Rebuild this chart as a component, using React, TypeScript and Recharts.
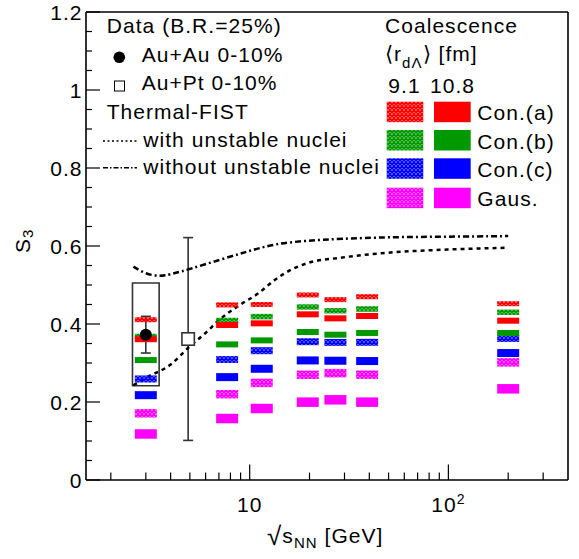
import React from 'react';
import {
  ComposedChart,
  XAxis,
  YAxis,
  Scatter,
  Line,
  ErrorBar,
  ReferenceArea,
  ReferenceLine,
} from 'recharts';

// ---------- data ----------
const energies = [3, 7.7, 11.5, 19.6, 27, 39, 200];

// Coalescence, <r_dL> = 9.1 fm (hatched)
const conA91 = [0.411, 0.449, 0.45, 0.4745, 0.4625, 0.47, 0.452];
const conB91 = [0.368, 0.409, 0.419, 0.4437, 0.434, 0.4385, 0.43];
const conC91 = [0.259, 0.309, 0.3315, 0.3546, 0.3528, 0.353, 0.363];
const gaus91 = [0.171, 0.22, 0.249, 0.2698, 0.274, 0.27, 0.3015];

// Coalescence, <r_dL> = 10.8 fm (solid)
const conA108 = [0.361, 0.3974, 0.4017, 0.4248, 0.4145, 0.4205, 0.4085];
const conB108 = [0.3075, 0.3477, 0.358, 0.3795, 0.3726, 0.377, 0.377];
const conC108 = [0.2175, 0.2638, 0.2852, 0.3066, 0.3058, 0.305, 0.3255];
const gaus108 = [0.118, 0.1576, 0.1833, 0.1996, 0.2056, 0.1996, 0.2338];

// Data
const auauEnergy = [3];
const auauS3 = [0.3726];
const auauStat = [0.047];
const auauSysLow = [0.2415];
const auauSysHigh = [0.505];

const auptEnergy = [4.9];
const auptS3 = [0.3615];
const auptStat = [0.26];

// Thermal-FIST
const withUnstableX = [2.6, 3, 4, 5, 6, 7, 9, 11, 13.3, 16, 19.5, 28.7, 49, 100, 200];
const withUnstableY = [0.243, 0.262, 0.296, 0.343, 0.377, 0.41, 0.45, 0.478, 0.512, 0.538, 0.556, 0.57, 0.5825, 0.591, 0.5955];
const withoutUnstableX = [2.6, 3, 3.5, 4, 5, 7.1, 9.9, 13.3, 19.5, 28.7, 49, 100, 200];
const withoutUnstableY = [0.547, 0.528, 0.522, 0.527, 0.541, 0.565, 0.587, 0.6055, 0.614, 0.6185, 0.6227, 0.624, 0.6254];

// ticks
const xMajorTicks = [10, 100];
const xMajorLabelBase = ['10', '10'];
const xMajorLabelExp = ['', '2'];
const xMinorTicks = [2, 3, 4, 5, 6, 7, 8, 9, 20, 30, 40, 50, 60, 70, 80, 90, 200, 300];
const yMajorTicks = [0, 0.2, 0.4, 0.6, 0.8, 1, 1.2];
const yMajorLabels = ['0', '0.2', '0.4', '0.6', '0.8', '1', '1.2'];
const yMinorTicks = [0.05, 0.1, 0.15, 0.25, 0.3, 0.35, 0.45, 0.5, 0.55, 0.65, 0.7, 0.75, 0.85, 0.9, 0.95, 1.05, 1.1, 1.15];

// ---------- styles ----------
const FONT = "'Liberation Sans', Arial, Helvetica, sans-serif";
const TXT: React.CSSProperties = { fontFamily: FONT, fontSize: 21, letterSpacing: 1.05 };
const RED = '#ff0000';
const GREEN = '#009900';
const BLUE = '#0000ff';
const MAG = '#ff00ff';
const BAND_W = 22;
const BOX_FACTOR = 1.167;

const toPts = (xs: number[], ys: number[], extra?: (i: number) => any) =>
  xs.map((x, i) => ({ x, y: ys[i], ...(extra ? extra(i) : {}) }));

const makeBand = (fill: string, h: number) => (props: any) => {
  const { cx, cy } = props;
  if (cx == null || cy == null) return <g />;
  return <rect x={cx - BAND_W / 2} y={cy - h / 2} width={BAND_W} height={h} fill={fill} />;
};

const DotShape = (props: any) => {
  const { cx, cy } = props;
  if (cx == null || cy == null) return <g />;
  return <circle cx={cx} cy={cy} r={6} fill="#000" />;
};
const SquareShape = (props: any) => {
  const { cx, cy } = props;
  if (cx == null || cy == null) return <g />;
  return <rect x={cx - 6.2} y={cy - 6.2} width={12.4} height={12.4} fill="#fff" stroke="#333" strokeWidth={1.6} />;
};

const YTick = (props: any) => {
  const { x, y, payload } = props;
  const v = payload.value;
  const idx = yMajorTicks.findIndex((t) => Math.abs(t - v) < 1e-6);
  const major = idx >= 0;
  return (
    <g>
      <line x1={x} x2={x + (major ? 14 : 6)} y1={y} y2={y} stroke="#000" strokeWidth={1.2} />
      {major && (
        <text x={x - 3.5} y={y + 7.5} textAnchor="end" style={TXT} fill="#000">
          {yMajorLabels[idx]}
        </text>
      )}
    </g>
  );
};

const XTick = (props: any) => {
  const { x, y, payload } = props;
  const v = payload.value;
  const idx = xMajorTicks.indexOf(v);
  const major = idx >= 0;
  return (
    <g>
      <line x1={x} x2={x} y1={y} y2={y - (major ? 15.5 : 7.5)} stroke="#000" strokeWidth={1.2} />
      {major && (
        <text x={x} y={y + 32} textAnchor="middle" style={TXT} fill="#000">
          {xMajorLabelBase[idx]}
          {xMajorLabelExp[idx] && (
            <tspan dy={-8} style={{ fontSize: 14 }}>
              {xMajorLabelExp[idx]}
            </tspan>
          )}
        </text>
      )}
    </g>
  );
};

const hatchIds: Record<string, string> = { red: RED, green: GREEN, blue: BLUE, mag: MAG };

export default function App() {
  const allXTicks = [...xMinorTicks, ...xMajorTicks].sort((a, b) => a - b);
  const allYTicks = [...yMinorTicks, ...yMajorTicks].sort((a, b) => a - b);

  const hatchedSeries = [
    { data: toPts(energies, conA91), fill: 'url(#hatch-red)', h: 5 },
    { data: toPts(energies, conB91), fill: 'url(#hatch-green)', h: 5.5 },
    { data: toPts(energies, conC91), fill: 'url(#hatch-blue)', h: 7 },
    { data: toPts(energies, gaus91), fill: 'url(#hatch-mag)', h: 8.5 },
  ];
  const solidSeries = [
    { data: toPts(energies, conA108), fill: RED, h: 6 },
    { data: toPts(energies, conB108), fill: GREEN, h: 6 },
    { data: toPts(energies, conC108), fill: BLUE, h: 8 },
    { data: toPts(energies, gaus108), fill: MAG, h: 9.5 },
  ];

  const auau = toPts(auauEnergy, auauS3, (i) => ({ err: auauStat[i] }));
  const aupt = toPts(auptEnergy, auptS3, (i) => ({ err: auptStat[i] }));
  const withU = toPts(withUnstableX, withUnstableY);
  const withoutU = toPts(withoutUnstableX, withoutUnstableY);

  const legendRows = [
    { hatch: 'url(#hatch-red)', solid: RED, label: 'Con.(a)' },
    { hatch: 'url(#hatch-green)', solid: GREEN, label: 'Con.(b)' },
    { hatch: 'url(#hatch-blue)', solid: BLUE, label: 'Con.(c)' },
    { hatch: 'url(#hatch-mag)', solid: MAG, label: 'Gaus.' },
  ];
  const rowTops = [101.7, 130, 158.3, 187.7];

  return (
    <div style={{ position: 'absolute', left: 0, top: 0, width: 579, height: 559, background: '#fff' }}>
      <ComposedChart width={579} height={559} margin={{ top: 12, right: 11, bottom: 0, left: 0 }}>
        <XAxis
          dataKey="x"
          type="number"
          scale="log"
          domain={[1.5, 400]}
          allowDataOverflow
          ticks={allXTicks}
          interval={0}
          tickSize={0}
          tickMargin={0}
          height={79}
          axisLine={{ stroke: '#000', strokeWidth: 1.6 }}
          tickLine={false}
          tick={XTick}
        />
        <YAxis
          dataKey="y"
          type="number"
          domain={[0, 1.2]}
          allowDataOverflow
          ticks={allYTicks}
          interval={0}
          tickSize={0}
          tickMargin={0}
          width={86}
          axisLine={{ stroke: '#000', strokeWidth: 1.6 }}
          tickLine={false}
          tick={YTick}
        />
        <ReferenceLine y={1.2} stroke="#000" strokeWidth={1.6} />
        <ReferenceLine x={400} stroke="#000" strokeWidth={1.6} />
        <ReferenceArea
          x1={auauEnergy[0] / BOX_FACTOR}
          x2={auauEnergy[0] * BOX_FACTOR}
          y1={auauSysLow[0]}
          y2={auauSysHigh[0]}
          fill="none"
          stroke="#333"
          strokeWidth={1.6}
          ifOverflow="visible"
        />
        {hatchedSeries.map((s, i) => (
          <Scatter key={'h' + i} data={s.data} dataKey="y" shape={makeBand(s.fill, s.h)} isAnimationActive={false} />
        ))}
        {solidSeries.map((s, i) => (
          <Scatter key={'s' + i} data={s.data} dataKey="y" shape={makeBand(s.fill, s.h)} isAnimationActive={false} />
        ))}
        <Scatter data={auau} dataKey="y" shape={DotShape} isAnimationActive={false}>
          <ErrorBar dataKey="err" direction="y" width={5} stroke="#333" strokeWidth={1.6} />
        </Scatter>
        <Scatter data={aupt} dataKey="y" shape={SquareShape} isAnimationActive={false}>
          <ErrorBar dataKey="err" direction="y" width={5} stroke="#333" strokeWidth={1.6} />
        </Scatter>
        <Line
          data={withU}
          dataKey="y"
          type="monotone"
          dot={false}
          stroke="#000"
          strokeWidth={2.5}
          strokeDasharray="4 4"
          isAnimationActive={false}
        />
        <Line
          data={withoutU}
          dataKey="y"
          type="basis"
          dot={false}
          stroke="#000"
          strokeWidth={2.5}
          strokeDasharray="6 3 2 3"
          isAnimationActive={false}
        />
      </ComposedChart>

      <svg
        width={579}
        height={559}
        style={{ position: 'absolute', left: 0, top: 0, pointerEvents: 'none' }}
      >
        <defs>
          {Object.keys(hatchIds).map((k) => (
            <pattern key={k} id={'hatch-' + k} patternUnits="userSpaceOnUse" width={4} height={4}>
              <path d="M0,0L4,4M4,0L0,4" stroke={hatchIds[k]} strokeWidth={1.6} />
            </pattern>
          ))}
        </defs>

        {/* axis titles */}
        <text x={30} y={253} transform="rotate(-90, 30, 253)" style={TXT} fill="#000">
          S
          <tspan dy={3} style={{ fontSize: 15 }}>3</tspan>
        </text>
        <text x={267} y={543} style={TXT} fill="#000">
          <tspan style={{ fontSize: 26 }} dy={2}>√</tspan>
          <tspan dy={-2}>s</tspan>
          <tspan dy={5} style={{ fontSize: 15 }}>NN</tspan>
          <tspan dy={-5}> [GeV]</tspan>
        </text>

        {/* left legend */}
        <text x={106.7} y={33.3} style={TXT} fill="#000">Data (B.R.=25%)</text>
        <circle cx={119.3} cy={57.3} r={5.8} fill="#000" />
        <text x={141.7} y={61.7} style={TXT} fill="#000">Au+Au 0-10%</text>
        <rect x={114.5} y={81} width={10} height={10} fill="#fff" stroke="#000" strokeWidth={1} />
        <text x={141.7} y={90} style={TXT} fill="#000">Au+Pt 0-10%</text>
        <text x={106.7} y={119.3} style={TXT} fill="#000">Thermal-FIST</text>
        <line x1={103} x2={137} y1={141} y2={141} stroke="#000" strokeWidth={1.5} strokeDasharray="2 2.5" />
        <text x={143.3} y={147} style={TXT} fill="#000">with unstable nuclei</text>
        <line x1={103} x2={137} y1={167.7} y2={167.7} stroke="#000" strokeWidth={1.5} strokeDasharray="5 2 1.5 2" />
        <text x={143.3} y={174} style={TXT} fill="#000">without unstable nuclei</text>

        {/* right legend */}
        <text x={385} y={33.3} style={TXT} fill="#000">Coalescence</text>
        <text x={385} y={60.7} style={TXT} fill="#000">
          ⟨r
          <tspan dy={7} style={{ fontSize: 15 }}>dΛ</tspan>
          <tspan dy={-7}>⟩ [fm]</tspan>
        </text>
        <text x={388.3} y={92.7} style={TXT} fill="#000">9.1</text>
        <text x={430} y={92.7} style={TXT} fill="#000">10.8</text>
        {legendRows.map((r, i) => (
          <g key={r.label}>
            <rect x={386.7} y={rowTops[i]} width={36.6} height={20.5} fill={r.hatch} />
            <rect x={434} y={rowTops[i]} width={36.7} height={20.5} fill={r.solid} />
            <text x={477.3} y={rowTops[i] + 18.5} style={TXT} fill="#000">{r.label}</text>
          </g>
        ))}
      </svg>
    </div>
  );
}
